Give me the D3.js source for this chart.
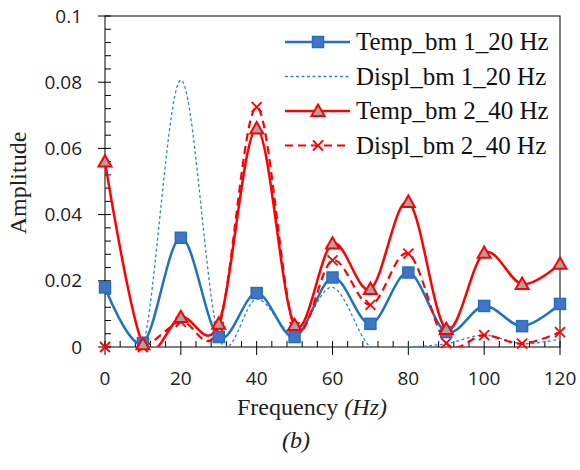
<!DOCTYPE html>
<html>
<head>
<meta charset="utf-8">
<script src="https://cdn.jsdelivr.net/npm/d3@7"></script>
<style>
  body { margin: 0; background: #fff; }
</style>
</head>
<body>
<div id="chart"></div>
<script>
// frequencies (Hz)
const freq = [0, 10, 20, 30, 40, 50, 60, 70, 80, 90, 100, 110, 120]

// amplitudes
const tempBm1 = [0.018, 0.0012, 0.033, 0.003, 0.0163, 0.003, 0.021, 0.007, 0.0225, 0.0045, 0.0124, 0.0063, 0.013]
const displBm1 = [0.0, 0.0, 0.0806, 0.003, 0.0145, 0.004, 0.018, 0.0, 0.0, 0.001, 0.0036, 0.001, 0.0024]
const tempBm2 = [0.056, 0.0008, 0.009, 0.007, 0.066, 0.0066, 0.0312, 0.0175, 0.0438, 0.0054, 0.0284, 0.019, 0.0251]
const displBm2 = [0.0, 0.0, 0.0076, 0.006, 0.0725, 0.006, 0.0262, 0.0127, 0.0282, 0.0012, 0.0036, 0.001, 0.0045]

const xTicks = [0, 20, 40, 60, 80, 100, 120]
const yTicks = [0, 0.02, 0.04, 0.06, 0.08, 0.1]
const seriesNames = ['Temp_bm 1_20 Hz', 'Displ_bm 1_20 Hz', 'Temp_bm 2_40 Hz', 'Displ_bm 2_40 Hz']

const width = 580, height = 470
const margin = { top: 16, right: 20, bottom: 123, left: 105 }
const w = width - margin.left - margin.right
const h = height - margin.top - margin.bottom

const blue = '#1f72c0', red = '#ff0000'

const svg = d3.select('#chart').append('svg')
    .attr('width', width)
    .attr('height', height)

const g = svg.append('g').attr('transform', `translate(${margin.left},${margin.top})`)

let x = d3.scaleLinear().domain([0, 120]).range([0, w])
let y = d3.scaleLinear().domain([0, 0.1]).range([h, 0])

g.append('clipPath').attr('id', 'clip')
    .append('rect').attr('x', -6).attr('y', -6).attr('width', w + 12).attr('height', h + 6)

// frame
g.append('rect')
    .attr('width', w).attr('height', h)
    .attr('fill', 'none').attr('stroke', '#000').attr('stroke-width', 1)

// minor ticks (inside)
const minorX = d3.range(0, 121, 4).filter(d => d % 20 !== 0)
const minorY = d3.range(0, 0.1001, 0.004).filter(d => Math.abs(Math.round(d / 0.02) * 0.02 - d) > 1e-6)

g.selectAll('.mx').data(minorX).enter().append('line')
    .attr('x1', d => x(d)).attr('x2', d => x(d))
    .attr('y1', h).attr('y2', h - 6)
    .attr('stroke', '#000')
g.selectAll('.my').data(minorY).enter().append('line')
    .attr('x1', 0).attr('x2', 6)
    .attr('y1', d => y(d)).attr('y2', d => y(d))
    .attr('stroke', '#000')

// major ticks cross the axis
g.selectAll('.Mx').data(xTicks).enter().append('line')
    .attr('x1', d => x(d)).attr('x2', d => x(d))
    .attr('y1', h - 6).attr('y2', h + 8)
    .attr('stroke', '#000')
g.selectAll('.My').data(yTicks).enter().append('line')
    .attr('x1', -7).attr('x2', 6)
    .attr('y1', d => y(d)).attr('y2', d => y(d))
    .attr('stroke', '#000')

const tickFont = "'Open Sans', 'Liberation Sans', sans-serif"
g.selectAll('.xl').data(xTicks).enter().append('text')
    .attr('x', d => x(d)).attr('y', h + 38)
    .attr('text-anchor', 'middle')
    .attr('font-family', tickFont).attr('font-size', 19).attr('fill', '#222')
    .text(d => d)
g.selectAll('.yl').data(yTicks).enter().append('text')
    .attr('x', -23).attr('y', d => y(d)).attr('dy', '0.35em')
    .attr('text-anchor', 'end')
    .attr('font-family', tickFont).attr('font-size', 19).attr('fill', '#222')
    .text(d => d)

// series
const line = d3.line()
    .x((d, i) => x(freq[i]))
    .y(d => y(d))
    .curve(d3.curveCardinal)

const plot = g.append('g').attr('clip-path', 'url(#clip)')

plot.append('path').datum(displBm1)
    .attr('d', line).attr('fill', 'none')
    .attr('stroke', '#2e86d6').attr('stroke-width', 1.3).attr('stroke-dasharray', '3,2.5')

plot.append('path').datum(tempBm1)
    .attr('d', line).attr('fill', 'none')
    .attr('stroke', blue).attr('stroke-width', 2.5)

plot.append('path').datum(displBm2)
    .attr('d', line).attr('fill', 'none')
    .attr('stroke', red).attr('stroke-width', 2.2).attr('stroke-dasharray', '8,5')

plot.append('path').datum(tempBm2)
    .attr('d', line).attr('fill', 'none')
    .attr('stroke', red).attr('stroke-width', 2.5)

// markers
function square(sel, cx, cy) {
    sel.append('rect').attr('x', cx - 5.5).attr('y', cy - 5.5).attr('width', 11).attr('height', 11)
        .attr('fill', '#4472c4').attr('stroke', blue).attr('stroke-width', 1.5)
}
function triangle(sel, cx, cy) {
    const s = 6.5
    sel.append('path')
        .attr('d', `M${cx},${cy - s}L${cx + s},${cy + s * 0.75}L${cx - s},${cy + s * 0.75}Z`)
        .attr('fill', '#a5a5a5').attr('stroke', red).attr('stroke-width', 2)
}
function cross(sel, cx, cy) {
    const s = 5
    sel.append('path')
        .attr('d', `M${cx - s},${cy - s}L${cx + s},${cy + s}M${cx - s},${cy + s}L${cx + s},${cy - s}`)
        .attr('stroke', red).attr('stroke-width', 1.8).attr('fill', 'none')
}

const mk = g.append('g')
displBm2.forEach((v, i) => cross(mk, x(freq[i]), y(v)))
tempBm1.forEach((v, i) => square(mk, x(freq[i]), y(v)))
tempBm2.forEach((v, i) => triangle(mk, x(freq[i]), y(v)))

// legend
const lg = svg.append('g').attr('transform', 'translate(285,42)')
const rowGap = 34.5
seriesNames.forEach((name, i) => {
    const row = lg.append('g').attr('transform', `translate(0,${i * rowGap})`)
    const ln = row.append('line').attr('x1', 0).attr('x2', 65).attr('y1', 0).attr('y2', 0)
    if (i === 0) { ln.attr('stroke', blue).attr('stroke-width', 2.5); square(row, 33, 0) }
    if (i === 1) { ln.attr('stroke', '#2e86d6').attr('stroke-width', 1.3).attr('stroke-dasharray', '3,2.5') }
    if (i === 2) { ln.attr('stroke', red).attr('stroke-width', 2.5); triangle(row, 33, 0) }
    if (i === 3) { ln.attr('stroke', red).attr('stroke-width', 2.2).attr('stroke-dasharray', '8,5'); cross(row, 33, 0) }
    row.append('text')
        .attr('x', 71).attr('dy', '0.33em')
        .attr('font-family', "'Liberation Serif', serif").attr('font-size', 25).attr('fill', '#111')
        .text(name)
})

// axis titles
const tf = svg.append('text')
    .attr('x', 312).attr('y', 415)
    .attr('text-anchor', 'middle')
    .attr('font-family', "'Liberation Serif', serif").attr('font-size', 24).attr('fill', '#222')
tf.append('tspan').text('Frequency ')
tf.append('tspan').attr('font-style', 'italic').text('(Hz)')

svg.append('text')
    .attr('x', 296).attr('y', 448)
    .attr('text-anchor', 'middle')
    .attr('font-family', "'Liberation Serif', serif").attr('font-size', 24).attr('font-style', 'italic').attr('fill', '#222')
    .text('(b)')

svg.append('text')
    .attr('transform', 'translate(26,183) rotate(-90)')
    .attr('text-anchor', 'middle')
    .attr('font-family', "'Liberation Serif', serif").attr('font-size', 24).attr('fill', '#222')
    .text('Amplitude')
</script>
</body>
</html>
